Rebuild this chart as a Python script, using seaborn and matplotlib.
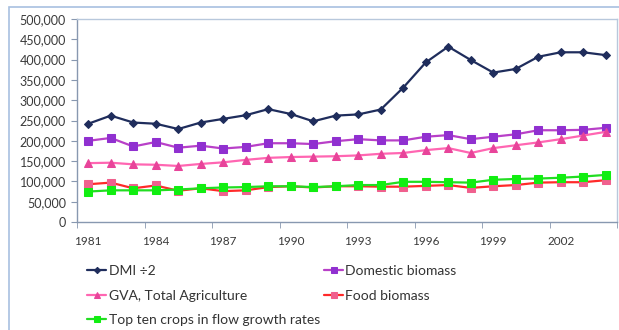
import matplotlib
matplotlib.use("Agg")
import matplotlib.pyplot as plt
import matplotlib.ticker as mticker
from matplotlib.patches import Rectangle
import seaborn as sns
import pandas as pd

# Data (1981-2004)
years = list(range(1981, 2005))
dmi_half = [242000, 262000, 245000, 242000, 229000, 245000, 254000, 263000, 278000, 266000,
            248000, 262000, 265000, 277000, 331000, 393000, 432000, 399000, 368000, 377000,
            407000, 418000, 418000, 411000]
domestic_biomass = [200000, 207000, 186000, 197000, 183000, 188000, 181000, 185000, 194000, 194000,
                    192000, 199000, 204000, 201000, 201000, 210000, 214000, 204000, 210000, 216000,
                    226000, 226000, 227000, 232000]
gva_agriculture = [145000, 146000, 142000, 141000, 138000, 143000, 147000, 153000, 158000, 160000,
                   161000, 162000, 164000, 168000, 170000, 177000, 182000, 170000, 182000, 189000,
                   196000, 204000, 213000, 222000]
food_biomass = [93000, 97000, 83000, 90000, 77000, 83000, 76000, 78000, 86000, 88000,
                85000, 88000, 88000, 87000, 87000, 89000, 91000, 84000, 88000, 91000,
                97000, 98000, 98000, 103000]
top_ten_crops = [75000, 78000, 78000, 78000, 80000, 83000, 85000, 86000, 88000, 88000,
                 86000, 88000, 91000, 91000, 99000, 99000, 98000, 97000, 104000, 106000,
                 107000, 109000, 112000, 116000]

series = [
    ("DMI \u00f72", dmi_half, "#1f2d5c", "#1f2d5c", "D", 4),
    ("Domestic biomass", domestic_biomass, "#b840c8", "#9030d0", "s", 6),
    ("GVA, Total Agriculture", gva_agriculture, "#ff66b2", "#e8449a", "^", 5.5),
    ("Food biomass", food_biomass, "#ff2a2a", "#f0608e", "s", 5.5),
    ("Top ten crops in flow growth rates", top_ten_crops, "#22dd22", "#11ee11", "s", 6),
]

sns.set_style("white")
plt.rcParams["font.family"] = ["Lato", "DejaVu Sans"]

fig = plt.figure(figsize=(6.19, 3.30), dpi=100)
ax = fig.add_axes([77 / 619, 1 - 222 / 330, 540 / 619, 203 / 330])

# outer chart frame
fig.patches.append(Rectangle((9 / 619, -0.1), 1.2, 1.1 - 7 / 330, transform=fig.transFigure,
                             fill=False, edgecolor="#a8c0e0", linewidth=1.2))

idx = list(range(len(years)))
handles = {}
for name, vals, lc, mc, mk, ms in series:
    df = pd.DataFrame({"i": idx, "v": vals})
    sns.lineplot(data=df, x="i", y="v", ax=ax, color=lc, linewidth=1.6,
                 marker=mk, markersize=ms, markerfacecolor=mc, markeredgecolor=mc,
                 label=name, legend=False)
    handles[name] = ax.lines[-1]

ax.set_xlim(-0.5, len(years) - 0.5)
ax.set_ylim(0, 500000)
ax.set_yticks(range(0, 500001, 50000))
ax.yaxis.set_major_formatter(mticker.FuncFormatter(lambda v, p: f"{int(v):,}"))
ax.set_xticks(idx[::3])
ax.set_xticklabels([str(y) for y in years[::3]])
ax.set_xticks([i - 0.5 for i in idx[::3]] + [len(years) - 0.5], minor=True)
ax.tick_params(axis="x", which="major", length=0, pad=10, labelsize=8.5, labelcolor="#3a3a3a")
ax.tick_params(axis="x", which="minor", length=4, direction="out", color="#8898b0", bottom=True)
ax.tick_params(axis="y", length=4, direction="out", color="#8898b0", left=True,
               labelsize=9, labelcolor="#3a3a3a", pad=4)
ax.set_xlabel("")
ax.set_ylabel("")

for side in ["left", "bottom"]:
    ax.spines[side].set_color("#8898b0")
for side in ["top", "right"]:
    ax.spines[side].set_color("#b8c8dc")
for s in ax.spines.values():
    s.set_linewidth(1.0)

order = ["DMI \u00f72", "GVA, Total Agriculture", "Top ten crops in flow growth rates",
         "Domestic biomass", "Food biomass"]
fig.legend([handles[n] for n in order], order, ncol=2, loc="upper left",
           bbox_to_anchor=(87 / 619, 1 - 265 / 330), frameon=False, fontsize=10,
           borderpad=0, borderaxespad=0, handlelength=1.4, handletextpad=0.15,
           columnspacing=0.3, labelspacing=0.9, markerscale=0.8, labelcolor="#333333")

fig.savefig("out.png", dpi=100)
